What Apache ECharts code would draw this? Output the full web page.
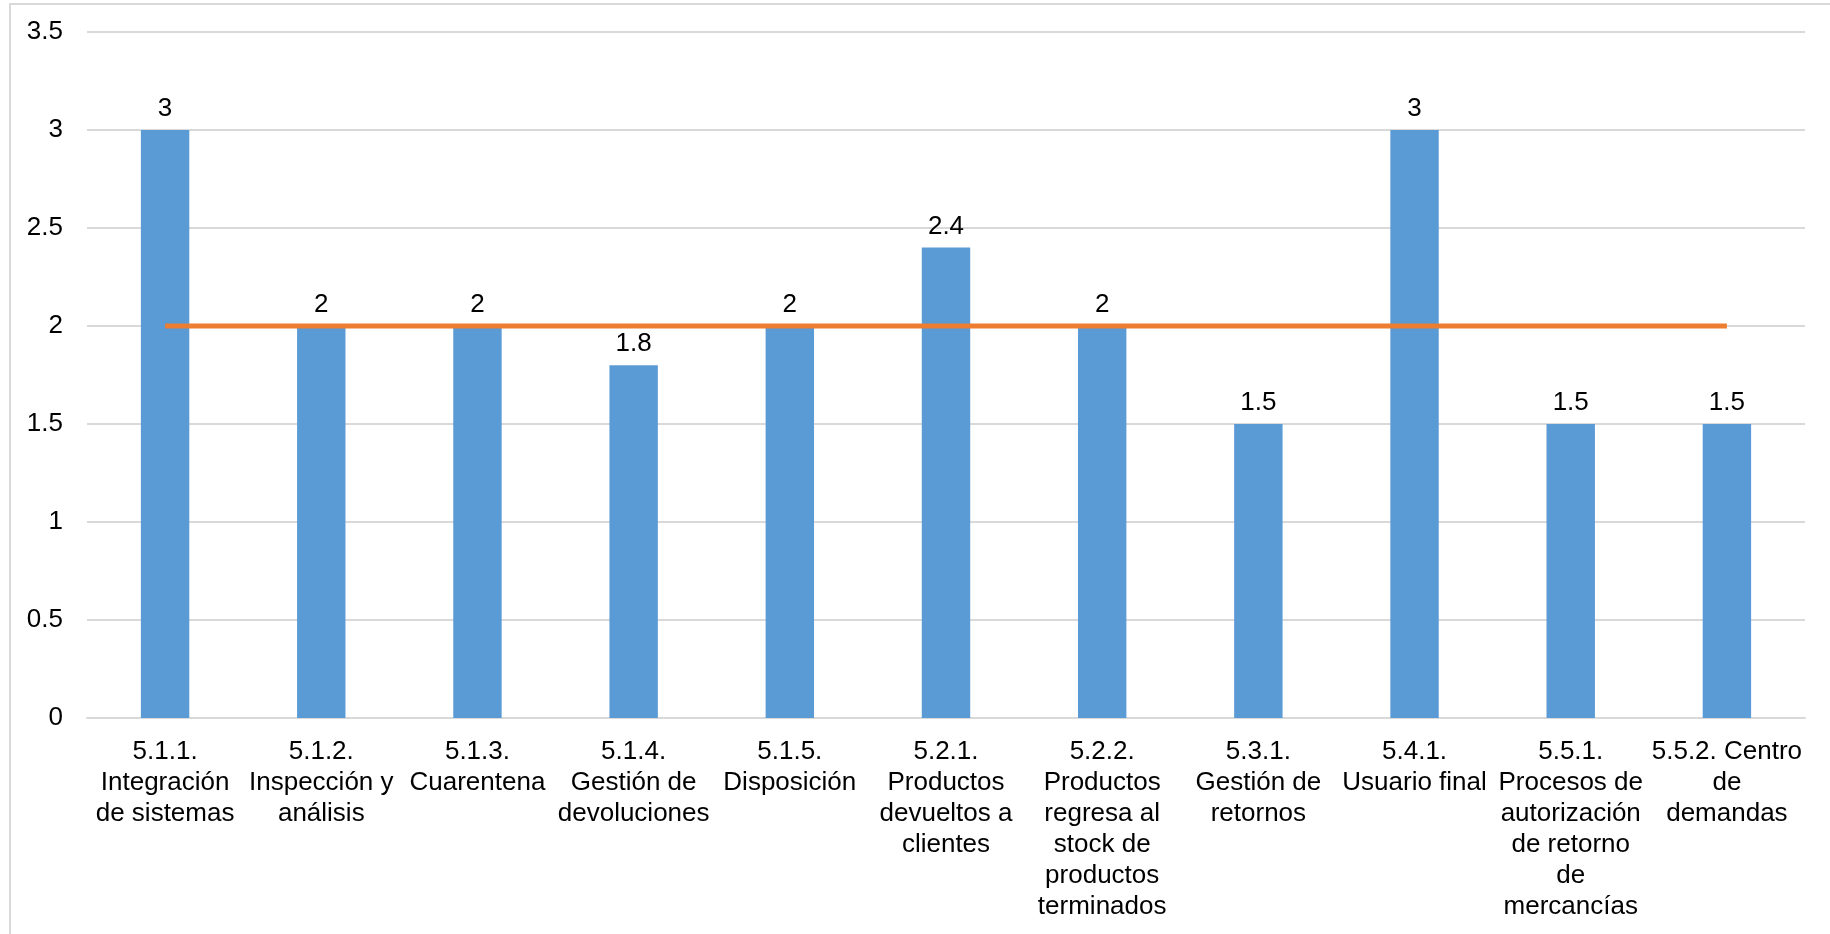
<!DOCTYPE html>
<html>
<head>
<meta charset="utf-8">
<script src="https://cdn.jsdelivr.net/npm/echarts@6/dist/echarts.min.js"></script>
<style>
  html, body { margin: 0; padding: 0; background: #ffffff; }
  #chart { width: 1830px; height: 934px; }
</style>
</head>
<body>
<div id="chart"></div>
<script>
// Process areas (labels already broken into lines as they are displayed)
const categories = [
  "5.1.1.\nIntegración\nde sistemas",
  "5.1.2.\nInspección y\nanálisis",
  "5.1.3.\nCuarentena",
  "5.1.4.\nGestión de\ndevoluciones",
  "5.1.5.\nDisposición",
  "5.2.1.\nProductos\ndevueltos a\nclientes",
  "5.2.2.\nProductos\nregresa al\nstock de\nproductos\nterminados",
  "5.3.1.\nGestión de\nretornos",
  "5.4.1.\nUsuario final",
  "5.5.1.\nProcesos de\nautorización\nde retorno\nde\nmercancías",
  "5.5.2. Centro\nde\ndemandas"
];

// Score per process
const scores = [3, 2, 2, 1.8, 2, 2.4, 2, 1.5, 3, 1.5, 1.5];

// Reference level drawn as a line across all processes
const reference = [2, 2, 2, 2, 2, 2, 2, 2, 2, 2, 2];

// Value axis ticks
const yMin = 0;
const yMax = 3.5;
const yStep = 0.5;

const FONT = "'Liberation Sans', Arial, sans-serif";

const chart = echarts.init(document.getElementById('chart'), null, { renderer: 'canvas' });

chart.setOption({
  animation: false,
  backgroundColor: '#ffffff',
  graphic: [{
    type: 'rect',
    shape: { x: 10, y: 4, width: 1840, height: 960 },
    style: { fill: 'none', stroke: '#d9d9d9', lineWidth: 2 },
    silent: true,
    z: -1
  }],
  grid: { left: 87, right: 25, top: 32, bottom: 216, containLabel: false },
  xAxis: {
    type: 'category',
    data: categories,
    boundaryGap: true,
    axisLine: { show: true, lineStyle: { color: '#d9d9d9', width: 2 } },
    axisTick: { show: false },
    axisLabel: {
      interval: 0,
      margin: 18,
      color: '#000000',
      fontFamily: FONT,
      fontSize: 26,
      lineHeight: 31,
      align: 'center'
    }
  },
  yAxis: {
    type: 'value',
    min: yMin,
    max: yMax,
    interval: yStep,
    axisLine: { show: false },
    axisTick: { show: false },
    splitLine: { show: true, lineStyle: { color: '#d9d9d9', width: 2 } },
    axisLabel: {
      margin: 24,
      color: '#000000',
      fontFamily: FONT,
      fontSize: 26
    }
  },
  series: [
    {
      type: 'bar',
      data: scores,
      barWidth: '31%',
      itemStyle: { color: '#5b9bd5' },
      label: {
        show: true,
        position: 'top',
        distance: 8,
        color: '#000000',
        fontFamily: FONT,
        fontSize: 26
      },
      z: 2
    },
    {
      type: 'line',
      data: reference,
      symbol: 'none',
      lineStyle: { color: '#ed7d31', width: 5 },
      z: 3
    }
  ]
});
</script>
</body>
</html>
